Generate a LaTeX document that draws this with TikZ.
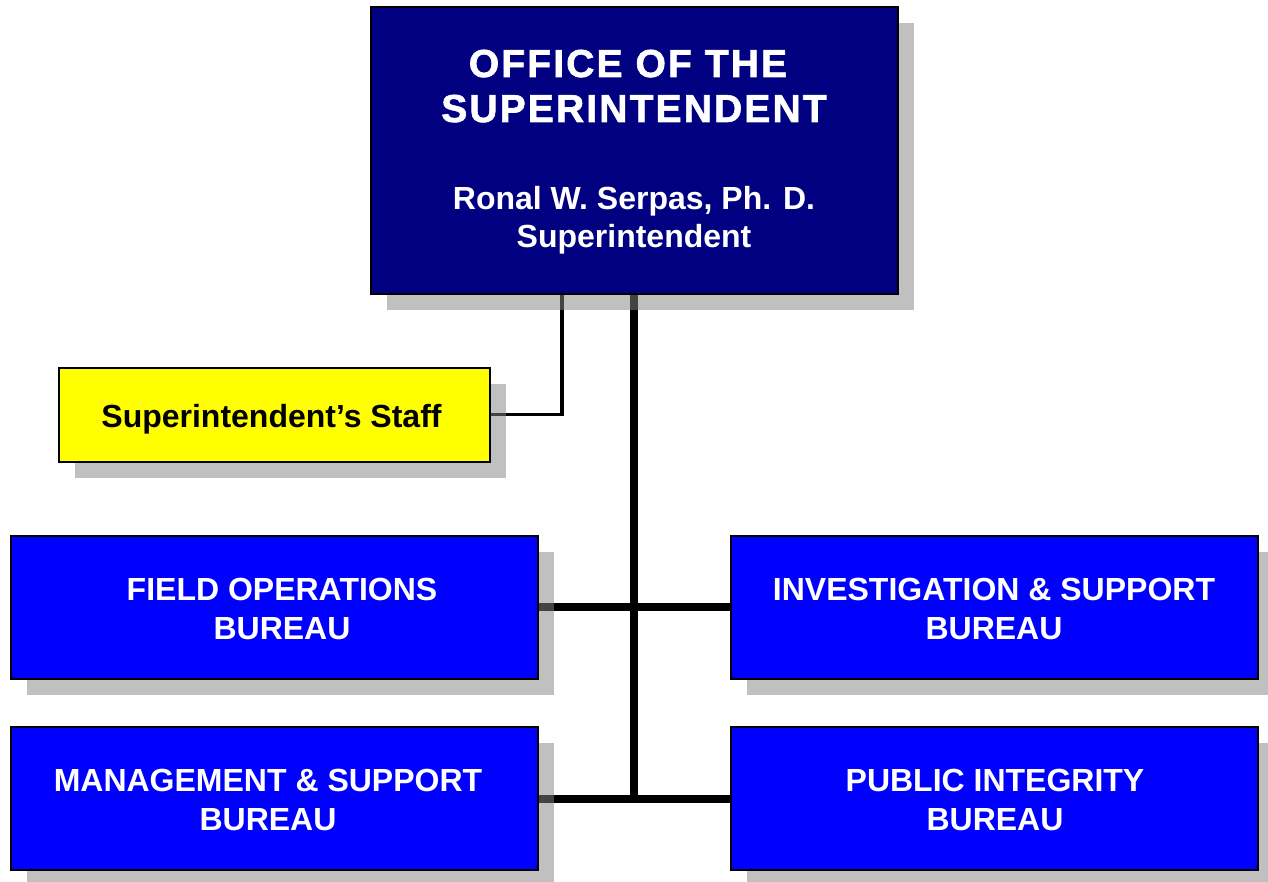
\documentclass[tikz,border=0pt]{standalone}
\usepackage{fontspec}
\setmainfont{Liberation Sans}
\newfontfamily\heavyfont{Liberation Sans Bold}[FakeBold=1.6, LetterSpace=5.5]
\usetikzlibrary{shadows}
\pgfdeclarelayer{links}
\pgfsetlayers{links,main}

\definecolor{navybox}{RGB}{0,0,128}
\definecolor{bureaublue}{RGB}{0,0,255}
\definecolor{staffyellow}{RGB}{255,255,0}

\tikzset{
  orgbox/.style={draw=black, line width=2pt, inner sep=0pt, outer sep=0pt,
    drop shadow={shadow xshift=16pt, shadow yshift=-16pt, opacity=0.51, fill=black!48}},
  chiefbox/.style={orgbox, fill=navybox, minimum width=527pt, minimum height=287pt},
  staffbox/.style={orgbox, fill=staffyellow, minimum width=431pt, minimum height=94pt},
  bureaubox/.style={orgbox, fill=bureaublue, minimum width=527pt, minimum height=143pt},
  boxtext/.style={text=white, font=\bfseries\fontsize{32}{38.5}\selectfont,
    align=center, anchor=base, inner sep=0pt},
  titletext/.style={boxtext, font=\heavyfont\fontsize{39}{45}\selectfont},
  mainlink/.style={draw=black, line width=8pt},
  stafflink/.style={draw=black, line width=3.8pt},
}

\begin{document}
\begin{tikzpicture}[x=1pt, y=-1pt]
  \useasboundingbox (0,0) rectangle (1268,882);

  % boxes
  \node[chiefbox]  (chief)  at (634,151)   {};
  \node[staffbox]  (staff)  at (274,414.5) {};
  \node[bureaubox] (field)  at (274,607)   {};
  \node[bureaubox] (invest) at (994,607)   {};
  \node[bureaubox] (mgmt)   at (274,798.5) {};
  \node[bureaubox] (public) at (994,798.5) {};

  % texts, each placed by the baseline of its last line
  \node[titletext] (chieftitle) at (634,122)
    {OFFICE OF THE\hspace*{12pt}\\SUPERINTENDENT};
  \node[boxtext] (chiefname) at (634,248)
    {Ronal W. Serpas, Ph. D.\\Superintendent};
  \node[boxtext, text=black] (stafftext) at (271.5,427)
    {Superintendent’s Staff};
  \node[boxtext] (fieldtext) at (282,639) {FIELD OPERATIONS\\BUREAU};
  \node[boxtext] (investtext) at (994,639) {INVESTIGATION \& SUPPORT\\BUREAU};
  \node[boxtext] (mgmttext) at (268,830) {MANAGEMENT \& SUPPORT\\BUREAU};
  \node[boxtext] (publictext) at (995,830) {PUBLIC INTEGRITY\\BUREAU};

  % connectors, kept under the shadows
  \begin{pgfonlayer}{links}
    \fill[white] (0,0) rectangle (1268,882);
    \coordinate (spineend) at (chief.south |- mgmt.east);
    \draw[mainlink] (chief.south) -- (spineend);
    \draw[mainlink] (field.east) -- (invest.west);
    \draw[mainlink] (mgmt.east) -- (public.west);
    \draw[stafflink] ([xshift=-72pt]chief.south) |- (staff.east);
  \end{pgfonlayer}
\end{tikzpicture}
\end{document}
